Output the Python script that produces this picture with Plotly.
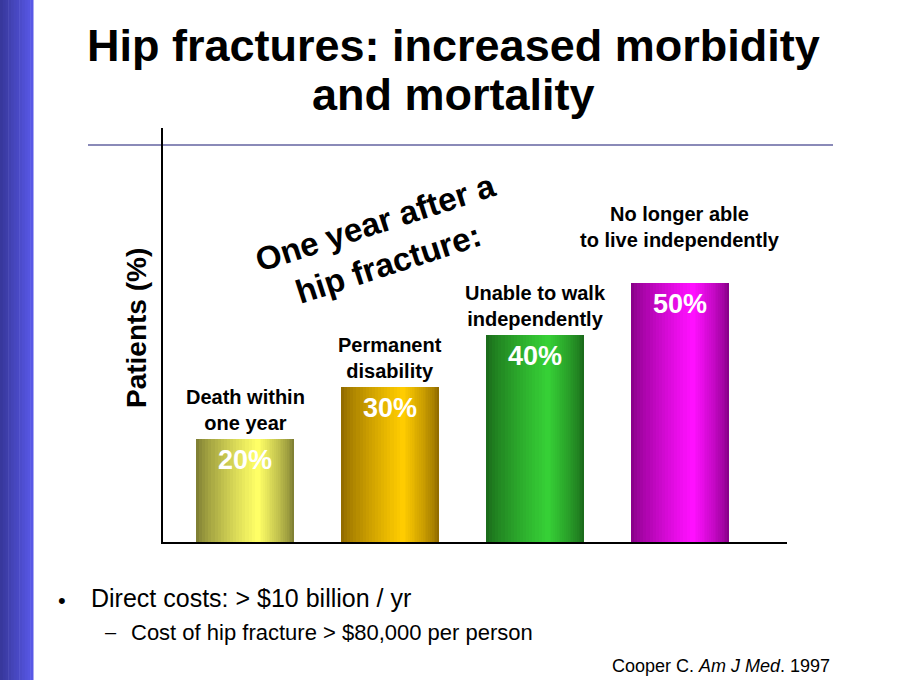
import plotly.graph_objects as go

# ---- data ----
categories = ["Death within one year", "Permanent disability",
              "Unable to walk independently", "No longer able to live independently"]
category_labels = ["Death within<br>one year", "Permanent<br>disability",
                   "Unable to walk<br>independently", "No longer able<br>to live independently"]
patients_pct = [20, 30, 40, 50]
value_labels = ["20%", "30%", "40%", "50%"]

title_lines = ["Hip fractures: increased morbidity", "and mortality"]
overlay_text = "One year after a<br>hip fracture:"
y_axis_title = "Patients (%)"
bullet_1 = "Direct costs: > $10 billion / yr"
bullet_2 = "Cost of hip fracture > $80,000 per person"
citation = "Cooper C. <i>Am J Med</i>. 1997"

# ---- styles ----
W, H = 904, 680
L, R, T, B = 163, 787, 128, 542
FONT = "Arial, 'Liberation Sans', Helvetica, sans-serif"
edge_colors = [(0x80, 0x80, 0x34), (0x92, 0x6c, 0x00), (0x1b, 0x6c, 0x1b), (0x8a, 0x00, 0x8a)]
high_colors = [(0xff, 0xff, 0x66), (0xff, 0xcc, 0x00), (0x36, 0xd0, 0x36), (0xff, 0x10, 0xff)]
bar_width = 0.676
highlight_pos = 0.63
n_layers = 20
label_shift = [3, 3, 3, 30]


def px2x(px):
    return (px - L) / (R - L)


def py2y(py):
    return (B - py) / (B - T)


def mix(c1, c2, t):
    return "rgb(%d,%d,%d)" % tuple(round(a + (b - a) * t) for a, b in zip(c1, c2))


fig = go.Figure()

# layered bars to imitate a horizontal cylinder-like gradient
for k in range(n_layers):
    t = k / n_layers
    w = bar_width * (1 - t)
    off = -bar_width / 2 + t * highlight_pos * bar_width
    f = (k / (n_layers - 1)) ** 0.8
    colors = [mix(e, h, f) for e, h in zip(edge_colors, high_colors)]
    fig.add_trace(go.Bar(
        x=categories, y=patients_pct, width=w, offset=off,
        marker=dict(color=colors, line=dict(width=0)),
        hoverinfo="skip", showlegend=False,
    ))

annotations = []
for cat, lab, v, val, s in zip(categories, category_labels, patients_pct, value_labels, label_shift):
    annotations.append(dict(x=cat, y=v, xref="x", yref="y", text="<b>%s</b>" % lab,
                            showarrow=False, yanchor="bottom", yshift=s,
                            font=dict(family=FONT, size=20, color="black")))
    annotations.append(dict(x=cat, y=v, xref="x", yref="y", text="<b>%s</b>" % val,
                            showarrow=False, yanchor="top", yshift=-4,
                            font=dict(family=FONT, size=27, color="white")))

# title
annotations.append(dict(x=px2x(453), y=py2y(45), xref="paper", yref="paper",
                        text="<b>%s</b>" % title_lines[0], showarrow=False,
                        xanchor="center", yanchor="middle",
                        font=dict(family=FONT, size=45, color="black")))
annotations.append(dict(x=px2x(453), y=py2y(94), xref="paper", yref="paper",
                        text="<b>%s</b>" % title_lines[1], showarrow=False,
                        xanchor="center", yanchor="middle",
                        font=dict(family=FONT, size=45, color="black")))
# rotated overlay text
annotations.append(dict(x=px2x(382), y=py2y(243), xref="paper", yref="paper",
                        text="<b>%s</b>" % overlay_text, showarrow=False, textangle=-18,
                        xanchor="center", yanchor="middle",
                        font=dict(family=FONT, size=33, color="black")))
# y axis title
annotations.append(dict(x=px2x(136), y=py2y(328), xref="paper", yref="paper",
                        text="<b>%s</b>" % y_axis_title, showarrow=False, textangle=-90,
                        xanchor="center", yanchor="middle",
                        font=dict(family=FONT, size=28, color="black")))
# bullets
annotations.append(dict(x=px2x(62), y=py2y(600), xref="paper", yref="paper",
                        text="•", showarrow=False, xanchor="center", yanchor="middle",
                        font=dict(family=FONT, size=22, color="black")))
annotations.append(dict(x=px2x(89), y=py2y(598), xref="paper", yref="paper",
                        text=bullet_1, showarrow=False, xanchor="left", yanchor="middle",
                        font=dict(family=FONT, size=25, color="black")))
annotations.append(dict(x=px2x(111), y=py2y(632), xref="paper", yref="paper",
                        text="–", showarrow=False, xanchor="center", yanchor="middle",
                        font=dict(family=FONT, size=20, color="black")))
annotations.append(dict(x=px2x(129), y=py2y(632), xref="paper", yref="paper",
                        text=bullet_2, showarrow=False, xanchor="left", yanchor="middle",
                        font=dict(family=FONT, size=22, color="black")))
annotations.append(dict(x=px2x(610), y=py2y(666), xref="paper", yref="paper",
                        text=citation, showarrow=False, xanchor="left", yanchor="middle",
                        font=dict(family=FONT, size=18, color="black")))

shapes = []
# left blue stripe gradient
n_stripe = 12
for i in range(n_stripe):
    x0 = 33 * i / n_stripe
    x1 = 33 * (i + 1) / n_stripe
    shapes.append(dict(type="rect", xref="paper", yref="paper",
                       x0=px2x(x0), x1=px2x(x1 + 0.5), y0=py2y(H), y1=py2y(0),
                       fillcolor=mix((0x38, 0x38, 0x9c), (0x58, 0x58, 0xe6), i / (n_stripe - 1)),
                       line=dict(width=0), layer="below"))
# separator line under title
shapes.append(dict(type="line", xref="paper", yref="paper",
                   x0=px2x(88), x1=px2x(833), y0=py2y(145), y1=py2y(145),
                   line=dict(color="#8a8ab8", width=2), layer="below"))

fig.update_layout(
    width=W, height=H,
    margin=dict(l=L, r=W - R, t=T, b=H - B, pad=0),
    paper_bgcolor="white", plot_bgcolor="rgba(0,0,0,0)",
    barmode="overlay", bargap=0,
    showlegend=False,
    annotations=annotations, shapes=shapes,
    xaxis=dict(range=[-0.566, 3.738], showticklabels=False, ticks="", showgrid=False,
               zeroline=False, showline=True, linecolor="black", linewidth=2),
    yaxis=dict(range=[0, 80], showticklabels=False, ticks="", showgrid=False,
               zeroline=False, showline=True, linecolor="black", linewidth=2),
    font=dict(family=FONT),
)

fig.write_html("out.html")
